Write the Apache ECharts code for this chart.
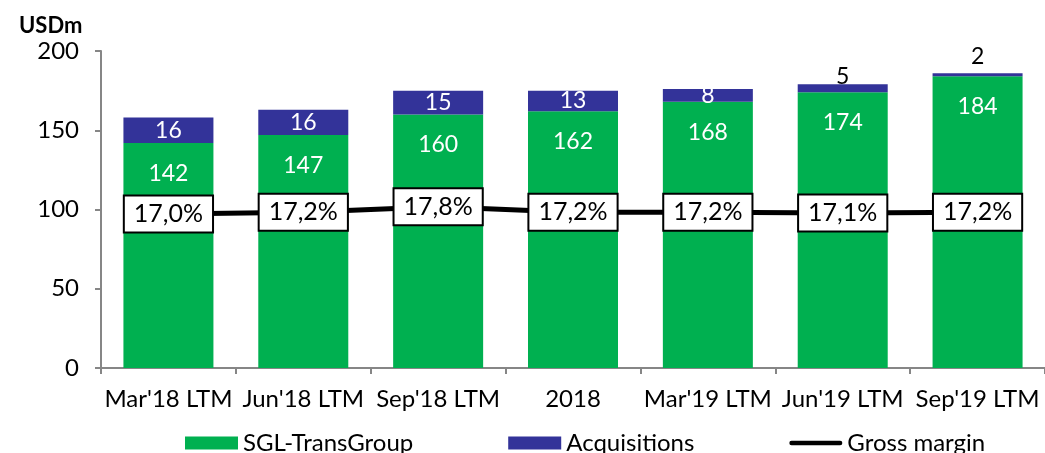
<!DOCTYPE html>
<html>
<head>
<meta charset="utf-8">
<script src="https://cdn.jsdelivr.net/npm/echarts@6/dist/echarts.min.js"></script>
<style>
  html, body { margin: 0; padding: 0; background: #fff; }
  #main { width: 1045px; height: 453px; }
</style>
</head>
<body>
<div id="main"></div>
<script>
// 数据
const categories = ["Mar'18 LTM", "Jun'18 LTM", "Sep'18 LTM", "2018", "Mar'19 LTM", "Jun'19 LTM", "Sep'19 LTM"];
const sglValues = [142, 147, 160, 162, 168, 174, 184];
const acqValues = [16, 16, 15, 13, 8, 5, 2];
const marginValues = [17.0, 17.2, 17.8, 17.2, 17.2, 17.1, 17.2];
const yTicks = [0, 50, 100, 150, 200];

const FONT = 'Lato';
const chart = echarts.init(document.getElementById('main'), null, { renderer: 'canvas' });

// small acquisitions values sit above the bar in black
const acqData = acqValues.map((v, i) => {
  if (v >= 8) return v;
  return {
    value: v,
    label: { position: 'top', color: '#000', distance: v === 5 ? -4 : 5 }
  };
});

const option = {
  animation: false,
  title: {
    text: 'USDm',
    left: 14,
    top: 10,
    textStyle: { fontFamily: FONT, fontWeight: 'bold', fontSize: 22, color: '#000' }
  },
  legend: {
    left: 180,
    top: 426,
    itemGap: 95,
    itemWidth: 53,
    itemHeight: 13,
    textStyle: { fontFamily: FONT, fontSize: 24, color: '#000' },
    data: [
      { name: 'SGL-TransGroup', icon: 'rect' },
      { name: 'Acquisitions', icon: 'rect' },
      { name: 'Gross margin', icon: 'path://M2,0 H58 A2.5,2.5 0 0 1 58,5 H2 A2.5,2.5 0 0 1 2,0 Z' }
    ]
  },
  grid: { left: 101, top: 51, width: 950, bottom: 85 },
  xAxis: {
    type: 'category',
    data: categories,
    axisLine: { lineStyle: { color: '#868686', width: 2 } },
    axisTick: { show: true, length: 6, lineStyle: { color: '#868686', width: 2 } },
    axisLabel: { fontFamily: FONT, fontSize: 24, color: '#000', margin: 19, interval: 0 }
  },
  yAxis: [{
    type: 'value',
    min: yTicks[0],
    max: yTicks[yTicks.length - 1],
    interval: 50,
    axisLine: { show: true, lineStyle: { color: '#868686', width: 2 } },
    axisTick: { show: true, length: 6, lineStyle: { color: '#868686', width: 2 } },
    splitLine: { show: false },
    axisLabel: { fontFamily: FONT, fontSize: 24, color: '#000', margin: 22 }
  }, {
    type: 'value',
    min: 0,
    max: 35,
    show: false,
    splitLine: { show: false }
  }],
  series: [{
    name: 'SGL-TransGroup',
    type: 'bar',
    stack: 'total',
    barWidth: 90,
    data: sglValues,
    itemStyle: { color: '#00B050' },
    label: {
      show: true,
      position: 'insideTop',
      distance: 19,
      color: '#fff',
      fontFamily: FONT,
      fontSize: 23
    }
  }, {
    name: 'Acquisitions',
    type: 'bar',
    stack: 'total',
    barWidth: 90,
    data: acqData,
    itemStyle: { color: '#333399' },
    label: {
      show: true,
      position: 'inside',
      color: '#fff',
      fontFamily: FONT,
      fontSize: 23
    }
  }, {
    name: 'Gross margin',
    type: 'line',
    yAxisIndex: 1,
    data: marginValues,
    symbol: 'rect',
    symbolSize: 1,
    itemStyle: { color: '#000' },
    lineStyle: { color: '#000', width: 5 },
    z: 5,
    label: {
      show: true,
      position: 'inside',
      formatter: p => p.value.toFixed(1).replace('.', ',') + '%',
      fontFamily: FONT,
      fontSize: 25,
      color: '#000',
      backgroundColor: '#fff',
      borderColor: '#000',
      borderWidth: 2,
      padding: [6, 9, 4, 9]
    }
  }]
};

chart.setOption(option);
</script>
</body>
</html>
